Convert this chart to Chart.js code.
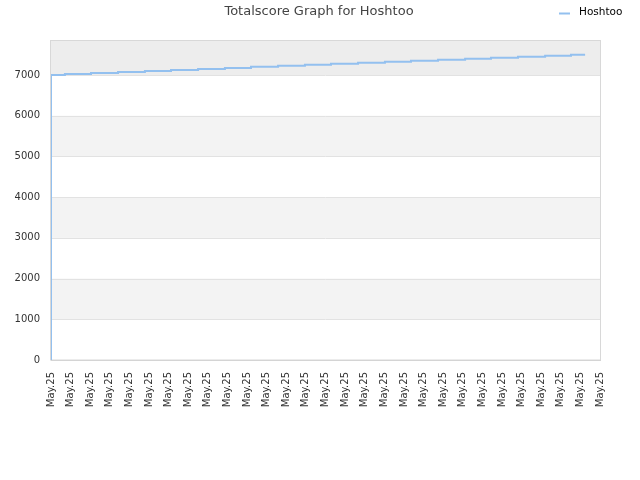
<!DOCTYPE html>
<html>
<head>
<meta charset="utf-8">
<title>Totalscore Graph for Hoshtoo</title>
<script src="https://cdn.jsdelivr.net/npm/chart.js@4/dist/chart.umd.min.js"></script>
<style>
  html, body { margin: 0; padding: 0; background: #fff; }
  #wrap { width: 640px; height: 480px; }
</style>
</head>
<body>
<div id="wrap"><canvas id="score-chart" width="640" height="480"></canvas></div>
<script>
// данные графика
const chartTitle = 'Totalscore Graph for Hoshtoo';
const seriesName = 'Hoshtoo';

// позиция по оси X (в делениях шкалы дат) и значение totalscore
const stepTimes = [0, 0, 0.71, 2.04, 3.42, 4.79, 6.12, 7.50, 8.87, 10.20, 11.58, 12.95,
  14.28, 15.66, 17.03, 18.36, 19.74, 21.12, 22.44, 23.82, 25.20, 26.52, 27.24];
const scoreValues = [0, 7000, 7025, 7050, 7075, 7100, 7125, 7150, 7175, 7200, 7225, 7250,
  7275, 7300, 7325, 7350, 7375, 7400, 7425, 7450, 7475, 7500, 7500];

const xTickLabels = ['May.25', 'May.25', 'May.25', 'May.25', 'May.25', 'May.25', 'May.25',
  'May.25', 'May.25', 'May.25', 'May.25', 'May.25', 'May.25', 'May.25', 'May.25',
  'May.25', 'May.25', 'May.25', 'May.25', 'May.25', 'May.25', 'May.25', 'May.25',
  'May.25', 'May.25', 'May.25', 'May.25', 'May.25', 'May.25'];
const yTicks = [0, 1000, 2000, 3000, 4000, 5000, 6000, 7000];
const yMax = 7860;

const lineColor = '#93c0ef';
const fontFamily = '"DejaVu Sans", Verdana, sans-serif';

// полосы фона, рамка, заголовок и легенда
const decorPlugin = {
  id: 'decor',
  beforeDatasetsDraw(chart) {
    const { ctx, chartArea: a, scales: { y } } = chart;
    ctx.save();
    for (let i = 1; i < yTicks.length; i += 2) {
      const top = i + 1 < yTicks.length ? y.getPixelForValue(yTicks[i + 1]) : a.top;
      const bottom = y.getPixelForValue(yTicks[i]);
      ctx.fillStyle = i + 1 < yTicks.length ? '#f3f3f3' : '#ededed';
      ctx.fillRect(a.left, top, a.right - a.left, bottom - top);
    }
    // линии сетки поверх полос
    ctx.strokeStyle = '#e2e2e2';
    ctx.lineWidth = 1;
    yTicks.forEach(v => {
      if (v === 0) return;
      const py = Math.round(y.getPixelForValue(v)) + 0.5;
      ctx.beginPath();
      ctx.moveTo(a.left, py);
      ctx.lineTo(a.right, py);
      ctx.stroke();
    });
    ctx.strokeStyle = '#d8d8d8';
    const left = Math.round(a.left) - 0.5;
    const top = Math.round(a.top) + 0.5;
    ctx.strokeRect(left, top, Math.round(a.right) + 0.5 - left, Math.round(a.bottom) - top);
    ctx.restore();
  },
  afterDraw(chart) {
    const { ctx } = chart;
    ctx.save();
    ctx.font = '13px ' + fontFamily;
    ctx.fillStyle = '#444';
    ctx.textAlign = 'center';
    ctx.textBaseline = 'middle';
    ctx.fillText(chartTitle, 319, 12);

    ctx.strokeStyle = lineColor;
    ctx.lineWidth = 2;
    ctx.beginPath();
    ctx.moveTo(559, 13.5);
    ctx.lineTo(570, 13.5);
    ctx.stroke();
    ctx.font = '10.5px ' + fontFamily;
    ctx.fillStyle = '#000';
    ctx.textAlign = 'left';
    ctx.fillText(seriesName, 579, 12.5);
    ctx.restore();
  }
};

function createScoreChart() {
  const ctx = document.getElementById('score-chart').getContext('2d');
  new Chart(ctx, {
    type: 'line',
    data: {
      datasets: [{
        label: seriesName,
        data: stepTimes.map((t, i) => ({ x: t, y: scoreValues[i] })),
        borderColor: lineColor,
        borderWidth: 2,
        pointRadius: 0,
        fill: false,
        clip: { left: 0, top: 5, right: 5, bottom: 0 },
        stepped: true
      }]
    },
    options: {
      responsive: false,
      animation: false,
      devicePixelRatio: 1,
      layout: { padding: { left: 0, top: 40, right: 40, bottom: 0 } },
      plugins: {
        legend: { display: false },
        title: { display: false },
        tooltip: { enabled: false }
      },
      scales: {
        x: {
          type: 'linear',
          min: 0,
          max: xTickLabels.length - 1,
          afterBuildTicks: scale => { scale.ticks = xTickLabels.map((l, i) => ({ value: i })); },
          afterFit: scale => { scale.height = 120; },
          grid: { display: false, drawTicks: false },
          border: { display: true, color: '#d0d0d0' },
          ticks: {
            autoSkip: false,
            minRotation: 90,
            maxRotation: 90,
            padding: 12,
            color: '#333',
            font: { family: fontFamily, size: 10 },
            callback: (v, i) => xTickLabels[i]
          }
        },
        y: {
          min: 0,
          max: yMax,
          afterBuildTicks: scale => { scale.ticks = yTicks.map(v => ({ value: v })); },
          afterFit: scale => { scale.width = 51; },
          grid: { display: false, drawTicks: false },
          border: { display: false },
          ticks: {
            padding: 11,
            color: '#333',
            font: { family: fontFamily, size: 10 },
            callback: v => String(v)
          }
        }
      }
    },
    plugins: [decorPlugin]
  });
}

window.addEventListener('load', createScoreChart);
</script>
</body>
</html>
